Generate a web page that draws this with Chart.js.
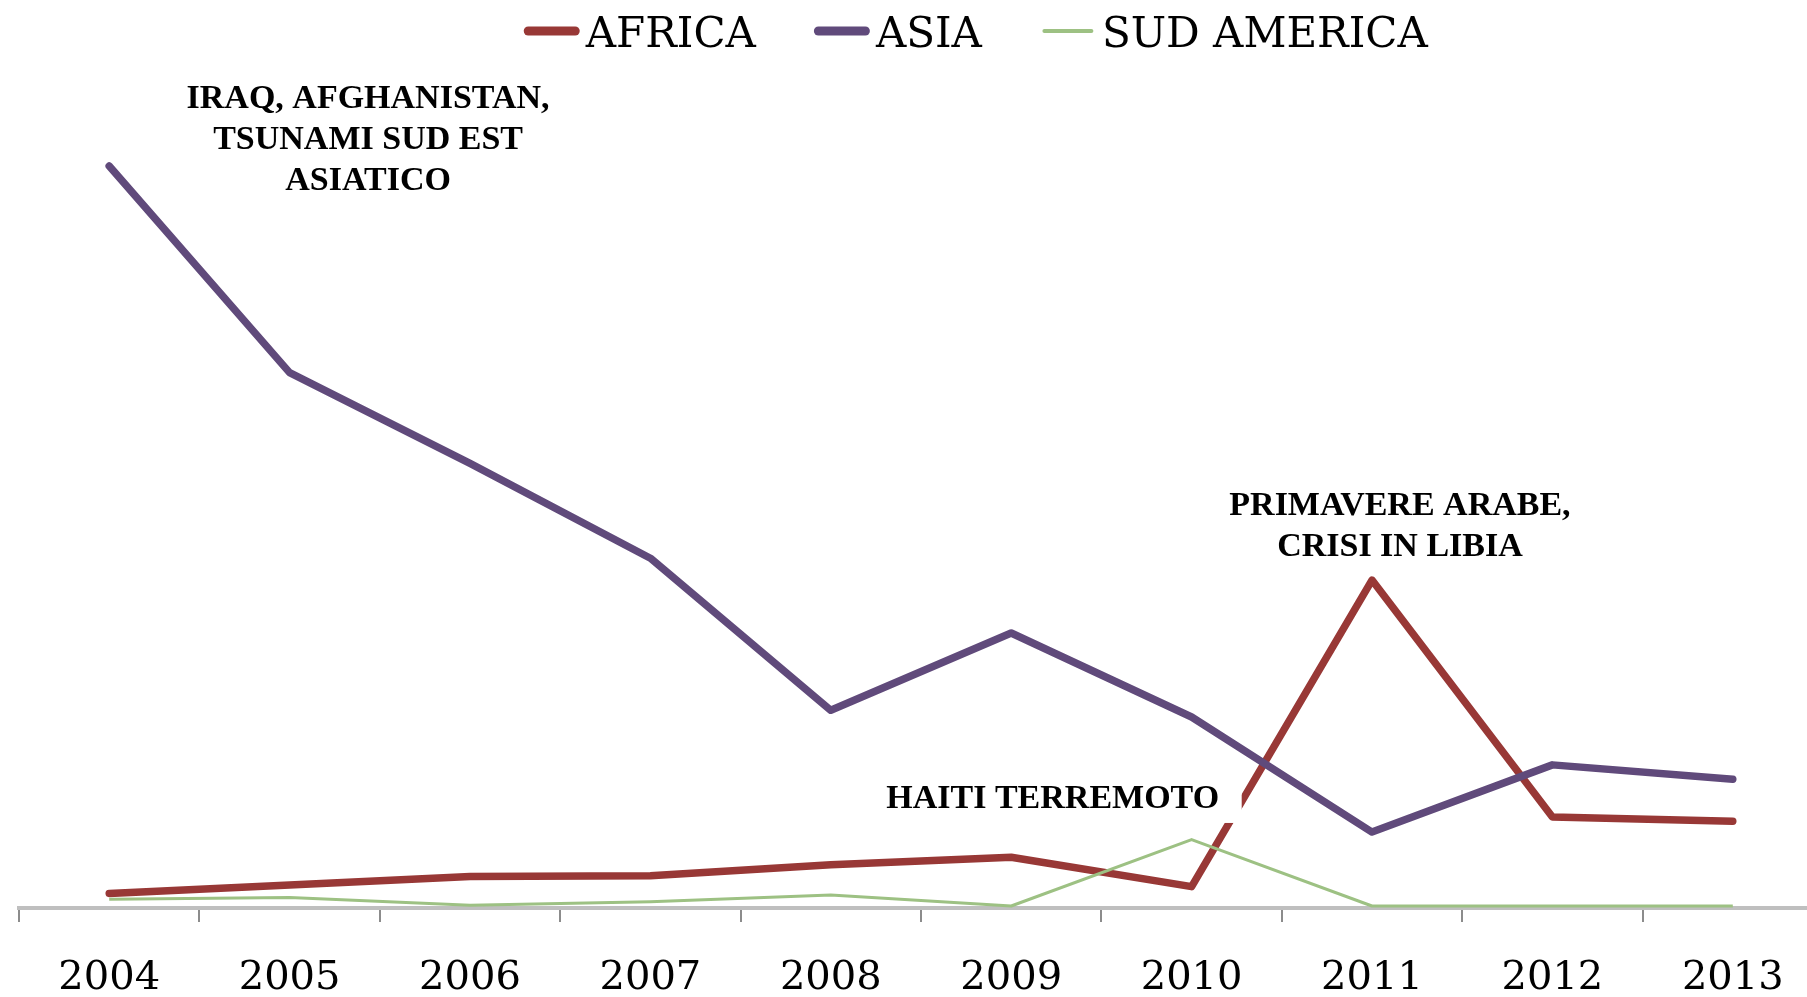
<!DOCTYPE html>
<html>
<head>
<meta charset="utf-8">
<script src="https://cdn.jsdelivr.net/npm/chart.js@4.4.0/dist/chart.umd.min.js"></script>
<style>
  html, body { margin: 0; padding: 0; background: #fff; overflow: hidden; }
  #wrap { width: 1807px; height: 997px; overflow: hidden; }
  canvas { display: block; }
</style>
</head>
<body>
<div id="wrap"><canvas id="myChart" width="1830" height="997"></canvas></div>
<script>
const years = ['2004', '2005', '2006', '2007', '2008', '2009', '2010', '2011', '2012', '2013'];
const africa = [1.5, 2.5, 3.5, 3.6, 4.9, 5.8, 2.3, 38.8, 10.6, 10.1];
const asia = [88.1, 63.5, 52.7, 41.4, 23.3, 32.5, 22.5, 8.8, 16.8, 15.1];
const sudAmerica = [0.8, 1.0, 0.1, 0.5, 1.3, 0, 7.9, 0, 0, 0];

const seriesNames = ['AFRICA', 'ASIA', 'SUD AMERICA'];
const seriesColors = ['#983836', '#604A7B', '#9DC183'];

// event labels, placed in data coordinates (category index, value of first baseline)
const notes = [
  { lines: ['IRAQ, AFGHANISTAN,', 'TSUNAMI SUD EST', 'ASIATICO'], at: 1.435, value: 95.0 },
  { lines: ['PRIMAVERE ARABE,', 'CRISI IN LIBIA'], at: 7.155, value: 46.5 },
  { lines: ['HAITI TERREMOTO'], at: 5.23, value: 11.67, boxed: true },
];

const serif = '"DejaVu Serif", "Liberation Serif", serif';

const topLegend = {
  id: 'topLegend',
  afterDraw(chart) {
    const ctx = chart.ctx;
    ctx.save();
    ctx.font = '42px ' + serif;
    ctx.textBaseline = 'alphabetic';
    ctx.textAlign = 'left';
    const lineLen = 47, gap = 10.5, spacing = 62.5;
    const widths = seriesNames.map(n => ctx.measureText(n).width);
    let total = 0;
    widths.forEach((w, i) => { total += lineLen + gap + w + (i ? spacing : 0); });
    let x = 978 - total / 2;
    chart.data.datasets.forEach((ds, i) => {
      ctx.beginPath();
      ctx.strokeStyle = ds.borderColor;
      ctx.lineWidth = i === 2 ? 4 : 9;
      ctx.lineCap = 'round';
      ctx.moveTo(x, 31);
      ctx.lineTo(x + lineLen, 31);
      ctx.stroke();
      ctx.fillStyle = '#000';
      ctx.fillText(seriesNames[i], x + lineLen + gap, 47);
      x += lineLen + gap + widths[i] + spacing;
    });
    ctx.restore();
  }
};

const eventNotes = {
  id: 'eventNotes',
  afterDatasetsDraw(chart) {
    const ctx = chart.ctx;
    const xs = chart.scales.x, ys = chart.scales.y;
    ctx.save();
    ctx.font = 'bold 34px "Liberation Serif", serif';
    ctx.textAlign = 'center';
    ctx.textBaseline = 'alphabetic';
    notes.forEach(n => {
      const cx = xs.getPixelForValue(n.at);
      const by = ys.getPixelForValue(n.value);
      if (n.boxed) {
        ctx.fillStyle = '#fff';
        ctx.fillRect(cx - 187, by - 36, 376, 51);
      }
      ctx.fillStyle = '#000';
      n.lines.forEach((t, k) => ctx.fillText(t, cx, by + k * 41));
    });
    ctx.restore();
  }
};

const ctx = document.getElementById('myChart').getContext('2d');
new Chart(ctx, {
  type: 'line',
  data: {
    labels: years,
    datasets: [
      { label: seriesNames[0], data: africa, borderColor: seriesColors[0], borderWidth: 7.5, order: 2 },
      { label: seriesNames[1], data: asia, borderColor: seriesColors[1], borderWidth: 7.5, order: 1 },
      { label: seriesNames[2], data: sudAmerica, borderColor: seriesColors[2], borderWidth: 3, order: 0, borderCapStyle: 'butt' },
    ],
  },
  options: {
    responsive: false,
    animation: false,
    devicePixelRatio: 1,
    layout: { padding: { top: 66, left: 19, right: 7, bottom: 0 } },
    elements: {
      point: { radius: 0, hoverRadius: 0 },
      line: { tension: 0, borderJoinStyle: 'round', borderCapStyle: 'round' },
    },
    plugins: {
      legend: { display: false },
      tooltip: { enabled: false },
    },
    scales: {
      x: {
        offset: true,
        grid: { offset: true, drawOnChartArea: false, drawTicks: true, tickLength: 14, color: '#8C8C8C', lineWidth: 2 },
        border: { display: true, color: '#BFBFBF', width: 4 },
        ticks: { color: '#000', font: { family: serif, size: 40, lineHeight: 1 }, padding: 37, maxRotation: 0, autoSkip: false },
        afterFit: s => { s.height = 89; },
      },
      y: { display: false, min: -0.24, max: 100 },
    },
  },
  plugins: [topLegend, eventNotes],
});
</script>
</body>
</html>
